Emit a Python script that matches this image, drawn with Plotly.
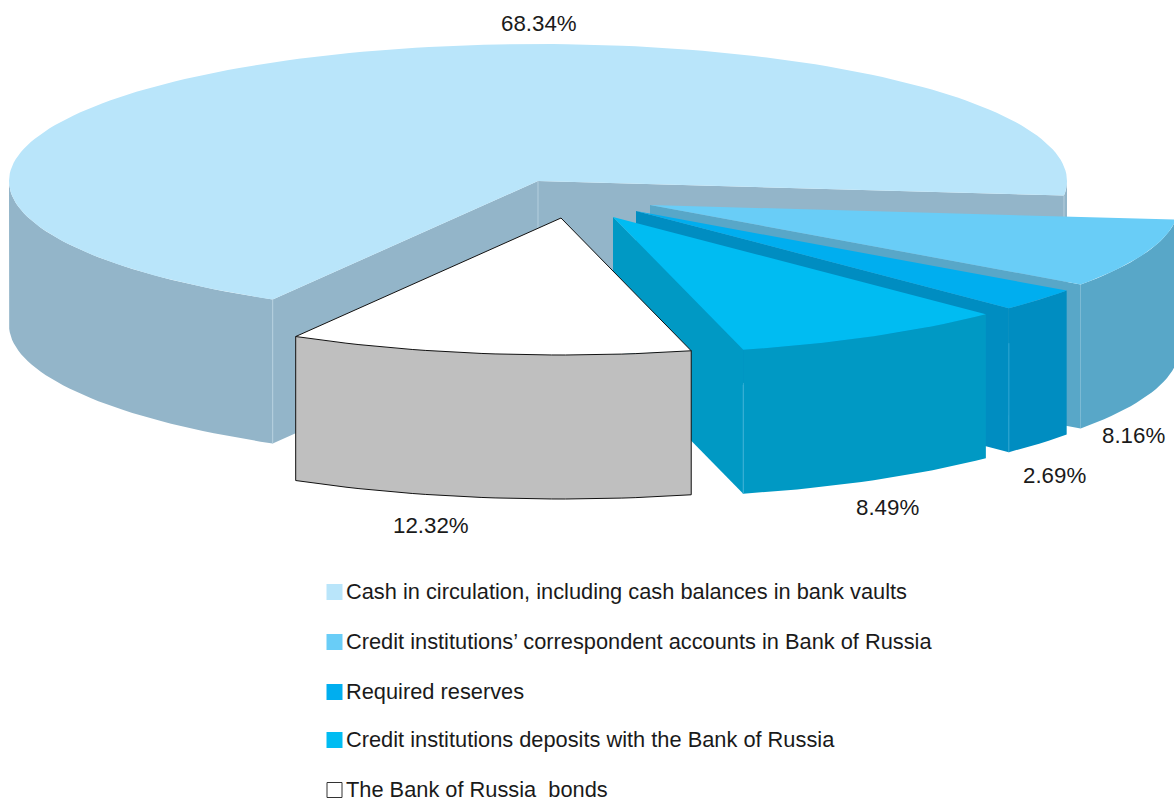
import numpy as np
import plotly.graph_objects as go

categories = [
    "Cash in circulation, including cash balances in bank vaults",
    "Credit institutions’ correspondent accounts in Bank of Russia",
    "Required reserves",
    "Credit institutions deposits with the Bank of Russia",
    "The Bank of Russia  bonds",
]
values = [68.34, 8.16, 2.69, 8.49, 12.32]
value_labels = ["68.34%", "8.16%", "2.69%", "8.49%", "12.32%"]

top_colors = ["#B9E5FA", "#69CDF7", "#00AEEF", "#00BCF2", "#FFFFFF"]
side_colors = ["#93B5C9", "#58A7C8", "#008DC1", "#0099C4", "#BFBFBF"]
seam_colors = ["#B4CFDE", None, "#2FA6D3", "#3AB0D6", None]

# Pie geometry in page pixels
RX, RY, DEPTH = 529, 137, 144
ROTATION = 210.1
apexes = [(538, 181), (650, 205), (636, 211), (613, 217), (561, 218)]
label_xy = [(539, 23), (1133, 435), (1054, 475), (887, 507), (431, 525)]
legend_y = [591, 641, 691, 739, 789]
TEXT = "#1A1A1A"
FONT = "Liberation Sans"


def rim(apex, a0, a1, step=1.5):
    n = max(2, int(abs(a1 - a0) / step) + 1)
    t = np.radians(np.linspace(a0, a1, n))
    return apex[0] + RX * np.sin(t), apex[1] - RY * np.cos(t)


def poly(fig, xs, ys, color, name):
    fig.add_trace(go.Scatter(x=list(xs), y=list(ys), mode="lines", fill="toself",
                             fillcolor=color, line=dict(width=0, color=color),
                             hoverinfo="text", text=name, showlegend=False))


def band(fig, xs, ys, color, name):
    xs, ys = np.asarray(xs), np.asarray(ys)
    poly(fig, np.r_[xs, xs[::-1], xs[0]], np.r_[ys, ys[::-1] + DEPTH, ys[0]], color, name)


def line(fig, xs, ys, color, width=1):
    fig.add_trace(go.Scatter(x=list(xs), y=list(ys), mode="lines",
                             line=dict(width=width, color=color),
                             hoverinfo="skip", showlegend=False))


fig = go.Figure()
edges = ROTATION + np.r_[0, np.cumsum(values)] * 3.6

for i, (cat, apex) in enumerate(zip(categories, apexes)):
    a0, a1 = edges[i], edges[i + 1]
    ax, ay = apex
    rx, ry = rim(apex, a0, a1)
    side = side_colors[i]
    if i == 0:
        # back cut faces, then the visible parts of the front rim
        band(fig, [rx[-1], ax, rx[0]], [ry[-1], ay, ry[0]], side, cat)
        mx, my = rim(apex, a0, 270)
        band(fig, mx, my, side, cat)
        mx, my = rim(apex, 450, a1)
        band(fig, mx, my, side, cat)
    else:
        # the cut face on the clockwise side, the left cut face, then the rim
        band(fig, [ax, rx[-1]], [ay, ry[-1]], side, cat)
        band(fig, rx, ry, side, cat)
    top_x = np.r_[ax, rx, ax]
    top_y = np.r_[ay, ry, ay]
    poly(fig, top_x, top_y, top_colors[i], cat)
    if i == 0:
        line(fig, [rx[0], rx[0]], [ry[0], ry[0] + DEPTH], seam_colors[i])
        line(fig, [ax, ax], [ay, ay + 60], seam_colors[i])
        line(fig, [rx[-1], rx[-1]], [ry[-1], ry[-1] + DEPTH], seam_colors[i])
    elif i == 4:
        k = "#111111"
        line(fig, np.r_[rx[0], ax, rx[-1]], np.r_[ry[0], ay, ry[-1]], k, 1)
        line(fig, rx, ry, k, 1)
        line(fig, rx, ry + DEPTH, k, 1)
        line(fig, [rx[0], rx[0]], [ry[0], ry[0] + DEPTH], k, 1)
        line(fig, [rx[-1], rx[-1]], [ry[-1], ry[-1] + DEPTH], k, 1)
    elif seam_colors[i]:
        line(fig, [rx[-1], rx[-1]], [ry[-1] + 35, ry[-1] + DEPTH], seam_colors[i])

# Legend swatches
fig.add_trace(go.Scatter(
    x=[334.5] * len(categories), y=[y + 1 for y in legend_y], mode="markers",
    marker=dict(symbol="square", size=[16, 16, 16, 16, 15], color=top_colors, opacity=1,
                line=dict(width=[0, 0, 0, 0, 1], color="#333333")),
    hovertext=categories, hoverinfo="text", showlegend=False))

annotations = []
for (x, y), txt in zip(label_xy, value_labels):
    annotations.append(dict(x=x, y=y, text=txt, showarrow=False, xanchor="center", yanchor="middle",
                            font=dict(family=FONT, size=22.3, color=TEXT)))
for y, txt in zip(legend_y, categories):
    annotations.append(dict(x=346, y=y, text=txt.replace("  ", "&nbsp; "), showarrow=False, xanchor="left",
                            yanchor="middle", xshift=-2, font=dict(family=FONT, size=21.8, color=TEXT)))

fig.update_layout(
    width=1174, height=801, margin=dict(l=0, r=0, t=0, b=0, pad=0),
    paper_bgcolor="white", plot_bgcolor="white", showlegend=False,
    xaxis=dict(range=[0, 1174], visible=False, fixedrange=True),
    yaxis=dict(range=[801, 0], visible=False, fixedrange=True),
    annotations=annotations,
)
fig.write_html("out.html", config=dict(displayModeBar=False),
               post_script="document.body.style.margin='0';")
